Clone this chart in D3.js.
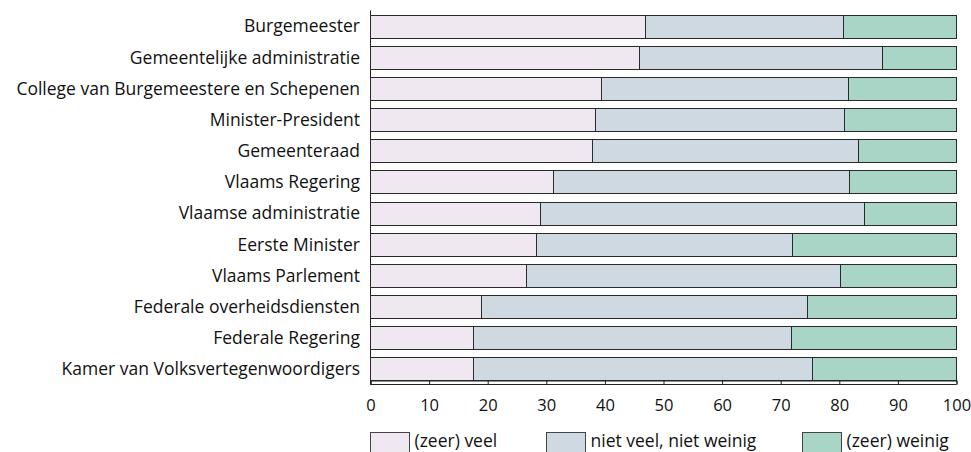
<!DOCTYPE html>
<html>
<head>
<meta charset="utf-8">
<script src="https://cdn.jsdelivr.net/npm/d3@7"></script>
<style>
  html, body { margin: 0; padding: 0; background: #fff; }
  svg { display: block; }
  text { font-family: "Open Sans", "Noto Sans", sans-serif; fill: #111; }
</style>
</head>
<body>
<svg id="chart" width="971" height="452"></svg>
<script>
const categories = [
  "Burgemeester",
  "Gemeentelijke administratie",
  "College van Burgemeestere en Schepenen",
  "Minister-President",
  "Gemeenteraad",
  "Vlaams Regering",
  "Vlaamse administratie",
  "Eerste Minister",
  "Vlaams Parlement",
  "Federale overheidsdiensten",
  "Federale Regering",
  "Kamer van Volksvertegenwoordigers"
];
const seriesNames = ["(zeer) veel", "niet veel, niet weinig", "(zeer) weinig"];
const veel    = [47.0, 45.9, 39.5, 38.4, 37.8, 31.2, 29.0, 28.3, 26.6, 18.9, 17.6, 17.5];
const neutraal = [33.7, 41.4, 42.1, 42.5, 45.5, 50.5, 55.3, 43.7, 53.6, 55.6, 54.3, 58.0];
const weinig  = [19.3, 12.7, 18.4, 19.1, 16.7, 18.3, 15.7, 28.0, 19.8, 25.5, 28.1, 24.5];
const xTicks = [0, 10, 20, 30, 40, 50, 60, 70, 80, 90, 100];
const colors = ["#f0e8f1", "#cfd9e2", "#a8d5c5"];

const svg = d3.select("#chart");
const x = d3.scaleLinear().domain([0, 100]).range([370, 956]);
const y = d3.scaleBand().domain(categories).range([14.5, 380.5]).paddingInner(0.26).paddingOuter(0);

const rows = categories.map((c, i) => ({ cat: c, vals: [veel[i], neutraal[i], weinig[i]] }));
const stackData = rows.map(r => { const o = { cat: r.cat }; seriesNames.forEach((s, k) => o[s] = r.vals[k]); return o; });
const stacked = d3.stack().keys(seriesNames)(stackData);

// left vertical axis line
svg.append("line")
  .attr("x1", x(0) + 0.5).attr("x2", x(0) + 0.5)
  .attr("y1", 10.5).attr("y2", 384.5)
  .attr("stroke", "#222").attr("stroke-width", 1);

// bars
svg.append("g").selectAll("g")
  .data(stacked).join("g")
  .attr("fill", (d, i) => colors[i])
  .selectAll("rect")
  .data(d => d).join("rect")
  .attr("x", d => Math.round(x(d[0])) + 0.5)
  .attr("width", d => Math.round(x(d[1])) - Math.round(x(d[0])))
  .attr("y", d => Math.round(y(d.data.cat)) + 0.5)
  .attr("height", Math.round(y.bandwidth()))
  .attr("stroke", "#2a2a2a")
  .attr("stroke-width", 1);

// category labels
svg.append("g").selectAll("text")
  .data(categories).join("text")
  .attr("x", 360)
  .attr("y", d => y(d) + y.bandwidth() / 2)
  .attr("dy", "0.36em")
  .attr("text-anchor", "end")
  .attr("font-size", 17.5)
  .text(d => d);

// x axis as a strip
const axisY = 380;
const axisG = svg.append("g").attr("transform", `translate(0.5,${axisY + 0.5})`)
  .call(d3.axisBottom(x).tickValues(xTicks).tickSize(4).tickSizeOuter(4).tickPadding(15).tickFormat(d3.format("d")));
axisG.selectAll("path, line").attr("stroke", "#222");
axisG.selectAll("text").attr("font-size", 16.5).attr("font-family", "\"Open Sans\", sans-serif").attr("fill", "#111");
axisG.append("line")
  .attr("x1", x(0)).attr("x2", x(100))
  .attr("y1", 4).attr("y2", 4)
  .attr("stroke", "#222");

// legend
const legendX = [370.5, 546.5, 802.5];
const legend = svg.append("g").selectAll("g")
  .data(seriesNames).join("g")
  .attr("transform", (d, i) => `translate(${legendX[i]},432.5)`);
legend.append("rect")
  .attr("width", 39).attr("height", 21)
  .attr("fill", (d, i) => colors[i])
  .attr("stroke", "#444").attr("stroke-width", 1);
legend.append("text")
  .attr("x", 44).attr("y", 14.5)
  .attr("font-size", 17.5)
  .text(d => d);
</script>
</body>
</html>
